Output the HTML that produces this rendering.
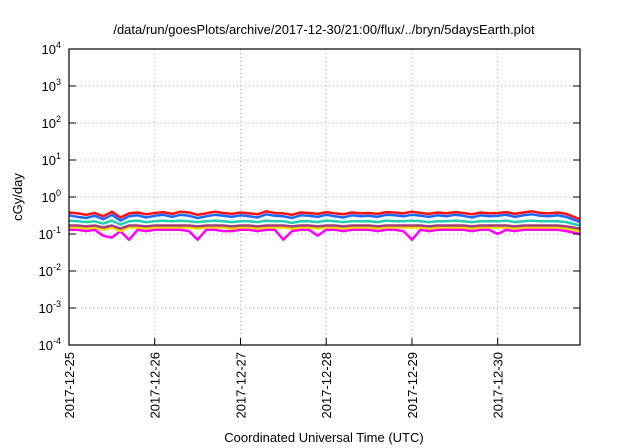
<!DOCTYPE html>
<html><head><meta charset="utf-8"><style>
body{margin:0;background:#fff;}
svg{display:block;font-family:"Liberation Sans",sans-serif;}
</style></head><body>
<svg id="chart" width="640" height="448">
<text x="324" y="34" text-anchor="middle" font-size="13">/data/run/goesPlots/archive/2017-12-30/21:00/flux/../bryn/5daysEarth.plot</text>
<g id="grid"></g><g id="series"></g><g id="axes"></g>
<text x="22" y="197" text-anchor="middle" font-size="13" transform="rotate(-90 22 197)">cGy/day</text>
<text x="324" y="442" text-anchor="middle" font-size="13">Coordinated Universal Time (UTC)</text>
</svg>
<script>
const xTickLabels=["2017-12-25","2017-12-26","2017-12-27","2017-12-28","2017-12-29","2017-12-30"];
const yExponents=[-4,-3,-2,-1,0,1,2,3,4];
const xDays=[0,0.1,0.2,0.3,0.4,0.5,0.6,0.7,0.8,0.9,1,1.1,1.2,1.3,1.4,1.5,1.6,1.7,1.8,1.9,2,2.1,2.2,2.3,2.4,2.5,2.6,2.7,2.8,2.9,3,3.1,3.2,3.3,3.4,3.5,3.6,3.7,3.8,3.9,4,4.1,4.2,4.3,4.4,4.5,4.6,4.7,4.8,4.9,5,5.1,5.2,5.3,5.4,5.5,5.6,5.7,5.8,5.96];
const redVals=[0.38,0.36,0.33,0.37,0.30,0.40,0.28,0.36,0.38,0.34,0.37,0.39,0.35,0.40,0.38,0.33,0.36,0.40,0.37,0.35,0.38,0.36,0.34,0.41,0.37,0.36,0.33,0.38,0.37,0.35,0.39,0.36,0.34,0.38,0.36,0.37,0.35,0.39,0.38,0.36,0.40,0.37,0.35,0.38,0.36,0.39,0.37,0.34,0.38,0.36,0.37,0.39,0.35,0.38,0.41,0.37,0.36,0.38,0.35,0.25];
const blueVals=[0.32,0.29,0.27,0.31,0.25,0.33,0.23,0.30,0.32,0.28,0.31,0.33,0.29,0.33,0.31,0.27,0.30,0.33,0.31,0.29,0.32,0.30,0.28,0.34,0.31,0.30,0.27,0.32,0.31,0.29,0.33,0.30,0.28,0.32,0.30,0.31,0.29,0.33,0.32,0.30,0.33,0.31,0.29,0.32,0.30,0.33,0.31,0.28,0.32,0.30,0.31,0.33,0.29,0.32,0.34,0.31,0.30,0.32,0.29,0.21];
const cyanVals=[0.23,0.22,0.21,0.22,0.19,0.23,0.18,0.22,0.23,0.21,0.22,0.23,0.22,0.23,0.22,0.21,0.22,0.23,0.22,0.21,0.22,0.22,0.21,0.23,0.22,0.22,0.20,0.22,0.22,0.21,0.23,0.22,0.21,0.22,0.22,0.22,0.21,0.23,0.22,0.22,0.23,0.22,0.21,0.22,0.22,0.23,0.22,0.21,0.22,0.22,0.22,0.23,0.21,0.22,0.23,0.22,0.22,0.22,0.21,0.17];
const purpleVals=[0.17,0.17,0.16,0.17,0.15,0.17,0.14,0.17,0.17,0.16,0.17,0.17,0.17,0.17,0.17,0.16,0.17,0.17,0.17,0.16,0.17,0.17,0.16,0.17,0.17,0.17,0.16,0.17,0.17,0.16,0.17,0.17,0.16,0.17,0.17,0.17,0.16,0.17,0.17,0.17,0.17,0.17,0.16,0.17,0.17,0.17,0.17,0.16,0.17,0.17,0.17,0.17,0.16,0.17,0.17,0.17,0.17,0.17,0.16,0.14];
const yellowVals=[0.15,0.15,0.14,0.15,0.13,0.15,0.12,0.15,0.15,0.14,0.15,0.15,0.15,0.15,0.15,0.14,0.15,0.15,0.15,0.14,0.15,0.15,0.14,0.15,0.15,0.15,0.14,0.15,0.15,0.14,0.15,0.15,0.14,0.15,0.15,0.15,0.14,0.15,0.15,0.15,0.15,0.15,0.14,0.15,0.15,0.15,0.15,0.14,0.15,0.15,0.15,0.15,0.14,0.15,0.15,0.15,0.15,0.15,0.14,0.12];
const magentaVals=[0.13,0.13,0.12,0.13,0.09,0.08,0.12,0.07,0.13,0.12,0.13,0.13,0.13,0.13,0.12,0.07,0.13,0.13,0.12,0.12,0.13,0.13,0.12,0.13,0.13,0.07,0.12,0.13,0.13,0.09,0.13,0.13,0.12,0.13,0.13,0.13,0.12,0.13,0.13,0.12,0.07,0.13,0.12,0.13,0.13,0.13,0.13,0.12,0.13,0.13,0.10,0.13,0.12,0.13,0.13,0.13,0.13,0.13,0.12,0.10];
const seriesList=[[magentaVals,"#ff00ff","series-magenta"],[yellowVals,"#ffd700","series-yellow"],[purpleVals,"#a0407a","series-purple"],[cyanVals,"#20d0b0","series-cyan"],[redVals,"#ff1010","series-red"],[blueVals,"#1a6aff","series-blue"]];
const L=69,R=580,T=49,B=345;
const xs=d=>L+(R-L)*d/5.96;
const ys=v=>B-(B-T)*(Math.log10(v)+4)/8;
const NS="http://www.w3.org/2000/svg";
function mk(tag,parent,attrs){const e=document.createElementNS(NS,tag);for(const k in attrs)e.setAttribute(k,attrs[k]);document.getElementById(parent).appendChild(e);return e;}
yExponents.forEach(p=>{
 const y=ys(Math.pow(10,p));
 if(p>-4&&p<4){const g=mk("line","grid",{x1:L,x2:R,y1:y,y2:y,stroke:"#aaa","stroke-dasharray":"1,3"});
 
 }
 const t=mk("line","axes",{x1:L,x2:L+7,y1:y,y2:y,stroke:"#000"});
 
 
 const t2=mk("line","axes",{x1:R-7,x2:R,y1:y,y2:y,stroke:"#000"});
 
 
 const lb=mk("text","axes",{x:L-8,y:y+5,"text-anchor":"end","font-size":"13"});
 
 
 lb.innerHTML='10<tspan dy="-6" font-size="9">'+p+'</tspan>';
});
xTickLabels.forEach((s,i)=>{
 const x=xs(i);
 if(i>0){const g=mk("line","grid",{x1:x,x2:x,y1:T,y2:B,stroke:"#aaa","stroke-dasharray":"1,3"});
 
 }
 const t=mk("line","axes",{x1:x,x2:x,y1:B-7,y2:B,stroke:"#000"});
 
 
 const lb=mk("text","axes",{x:x+5,y:352,"text-anchor":"end","font-size":"13",transform:"rotate(-90 "+(x+5)+" 352)"});
 
 
 lb.textContent=s;
});
const fr=mk("rect","axes",{x:L,y:T,width:R-L,height:B-T,fill:"none",stroke:"#000","stroke-width":"1.2"});


seriesList.forEach(([vals,col,name])=>{
 const pts=vals.map((v,i)=>xs(xDays[i]).toFixed(1)+","+ys(v).toFixed(1)).join(" ");
 const pl=mk("polyline","series",{points:pts,fill:"none",stroke:col,"stroke-width":"2.5","stroke-linejoin":"round"});
 
 
});
</script>
</body></html>
